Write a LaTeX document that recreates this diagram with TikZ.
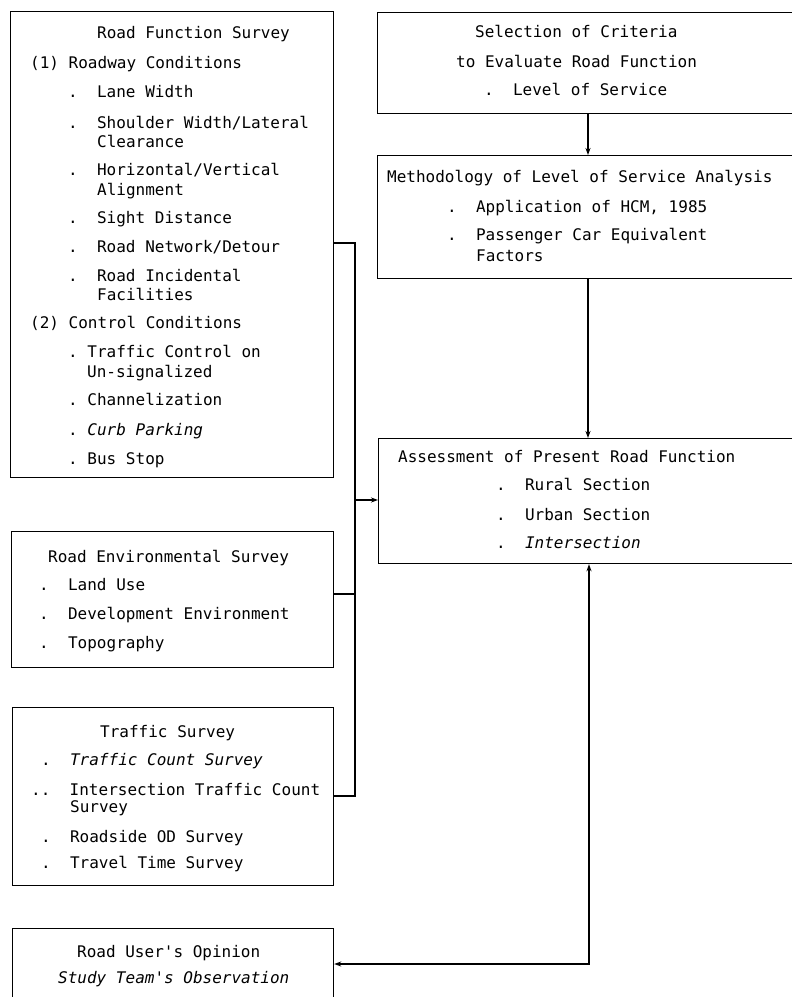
\documentclass[tikz,border=0pt]{standalone}
\usepackage{fontspec}
\setmonofont{DejaVu Sans Mono}
\usetikzlibrary{arrows.meta}

\tikzset{
  box/.style={draw,line width=1.2pt,anchor=north west,inner sep=0pt},
  txt/.style={anchor=base west,inner sep=0pt,font=\fontsize{16}{19}\selectfont\ttfamily},
  link/.style={line width=1.2pt},
}

\begin{document}
\begin{tikzpicture}[x=1pt,y=-1pt,>={Stealth[length=7pt,width=5pt]}]
				\useasboundingbox (0,0) rectangle (792,997);
				\clip (0,0) rectangle (792,997);
				% road function survey
				\node[box,minimum width=323pt,minimum height=466pt] (rfs) at (10,11) {};
				\node[txt] (rfs-t) at (97,38) {Road Function Survey};
				\node[txt] (rfs-a) at (30,68) {(1) Roadway Conditions};
				\node[txt] (rfs-a1) at (68,97) {.~~Lane Width};
				\node[txt] (rfs-a2) at (68,128) {.~~Shoulder Width/Lateral};
				\node[txt] (rfs-a2b) at (97,147) {Clearance};
				\node[txt] (rfs-a3) at (68,175) {.~~Horizontal/Vertical};
				\node[txt] (rfs-a3b) at (97,195) {Alignment};
				\node[txt] (rfs-a4) at (68,223) {.~~Sight Distance};
				\node[txt] (rfs-a5) at (68,252) {.~~Road Network/Detour};
				\node[txt] (rfs-a6) at (68,281) {.~~Road Incidental};
				\node[txt] (rfs-a6b) at (97,300) {Facilities};
				\node[txt] (rfs-b) at (30,328) {(2) Control Conditions};
				\node[txt] (rfs-b1) at (68,357) {.~Traffic Control on};
				\node[txt] (rfs-b1b) at (87,377) {Un-signalized};
				\node[txt] (rfs-b2) at (68,405) {.~Channelization};
				\node[txt] (rfs-b3) at (68,435) {.~\textit{Curb Parking}};
				\node[txt] (rfs-b4) at (68,464) {.~Bus Stop};
				% criteria
				\node[box,minimum width=430pt,minimum height=101pt] (sel) at (377,12) {};
				\node[txt] (sel-t) at (475,37) {Selection of Criteria};
				\node[txt] (sel-t2) at (456,67) {to Evaluate Road Function};
				\node[txt] (sel-1) at (484,95) {.~~Level of Service};
				% methodology
				\node[box,minimum width=430pt,minimum height=123pt] (meth) at (377,155) {};
				\node[txt] (meth-t) at (387,182) {Methodology of Level of Service Analysis};
				\node[txt] (meth-1) at (447,212) {.~~Application of HCM, 1985};
				\node[txt] (meth-2) at (447,240) {.~~Passenger Car Equivalent};
				\node[txt] (meth-2b) at (476,261) {Factors};
				% assessment
				\node[box,minimum width=430pt,minimum height=125pt] (assess) at (378,438) {};
				\node[txt] (assess-t) at (398,462) {Assessment of Present Road Function};
				\node[txt] (assess-1) at (496,490) {.~~Rural Section};
				\node[txt] (assess-2) at (496,520) {.~~Urban Section};
				\node[txt] (assess-3) at (496,548) {.~~\textit{Intersection}};
				% environment
				\node[box,minimum width=322pt,minimum height=136pt] (env) at (11,531) {};
				\node[txt] (env-t) at (48,562) {Road Environmental Survey};
				\node[txt] (env-1) at (39,590) {.~~Land Use};
				\node[txt] (env-2) at (39,619) {.~~Development Environment};
				\node[txt] (env-3) at (39,648) {.~~Topography};
				% traffic
				\node[box,minimum width=321pt,minimum height=178pt] (traf) at (12,707) {};
				\node[txt] (traf-t) at (100,737) {Traffic Survey};
				\node[txt] (traf-1) at (41,765) {.~~\textit{Traffic Count Survey}};
				\node[txt] (traf-2) at (31,795) {..~~Intersection Traffic Count};
				\node[txt] (traf-2b) at (70,812) {Survey};
				\node[txt] (traf-3) at (41,842) {.~~Roadside OD Survey};
				\node[txt] (traf-4) at (41,868) {.~~Travel Time Survey};
				% opinion
				\node[box,minimum width=321pt,minimum height=90pt] (user) at (12,928) {};
				\node[txt] (user-t) at (77,957) {Road User's Opinion};
				\node[txt] (user-t2) at (58,983) {\textit{Study Team's Observation}};
				% connectors
				\coordinate (jtop) at (355,243);
				\coordinate (jenv) at (355,594);
				\coordinate (jbot) at (355,796);
				\coordinate (jin) at (355,500);
				\coordinate (spine) at (588,0);
				\coordinate (ucorner) at (589,964);
				\draw[link] (rfs.east |- jtop) -- (jtop) -- (jbot) -- (traf.east |- jbot);
				\draw[link] (env.east |- jenv) -- (jenv);
				\draw[link,->] (jin) -- (assess.west |- jin);
				\draw[link,->] (sel.south -| spine) -- (meth.north -| spine);
				\draw[link,->] (meth.south -| spine) -- (assess.north -| spine);
				\draw[link,<->] (assess.south -| ucorner) -- (ucorner) -- (user.east |- ucorner);
			\end{tikzpicture}
\end{document}
